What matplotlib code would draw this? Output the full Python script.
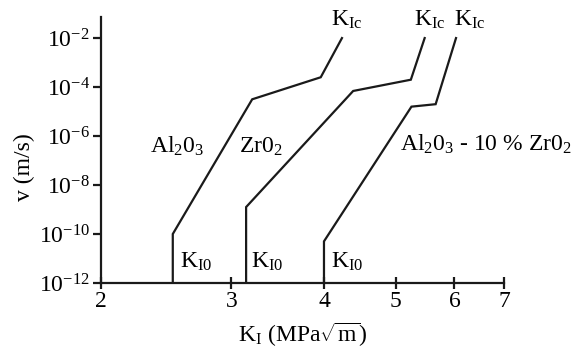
import numpy as np
import matplotlib
matplotlib.use("Agg")
import matplotlib.pyplot as plt

# crack velocity curves (K in MPa*sqrt(m), log10 of v in m/s)
k_al2o3 = [2.5, 2.5, 3.2, 3.96, 4.23]
logv_al2o3 = [-12, -10, -4.5, -3.6, -2.0]
k_zro2 = [3.14, 3.14, 4.38, 5.24, 5.47]
logv_zro2 = [-12, -8.9, -4.16, -3.7, -2.0]
k_mix = [4.0, 4.0, 5.25, 5.66, 6.03]
logv_mix = [-12, -10.3, -4.8, -4.7, -2.0]

x_ticks = [2, 3, 4, 5, 6, 7]
y_exponents = [-12, -10, -8, -6, -4, -2]

plt.rcParams['font.family'] = ['Liberation Serif', 'DejaVu Serif']
plt.rcParams['mathtext.fontset'] = 'custom'
plt.rcParams['mathtext.rm'] = 'Liberation Serif'
plt.rcParams['mathtext.it'] = 'Liberation Serif:italic'

fig = plt.figure(figsize=(5.73, 3.55), dpi=100)
ax = fig.add_axes([101 / 573, 72 / 355, 403 / 573, 266 / 355])

col = '#1a1a1a'
for k, lv in [(k_al2o3, logv_al2o3), (k_zro2, logv_zro2), (k_mix, logv_mix)]:
    ax.plot(k, 10.0 ** np.array(lv), color=col, lw=1.6, solid_joinstyle='miter')

ax.set_xscale('log')
ax.set_yscale('log')
ax.set_xlim(2, 7)
ax.set_ylim(1e-12, 10 ** -1.14)

ax.spines['top'].set_visible(False)
ax.spines['right'].set_visible(False)
for s in ['left', 'bottom']:
    ax.spines[s].set_linewidth(1.6)
    ax.spines[s].set_color(col)

fs = 17
ax.set_xticks(x_ticks)
ax.set_xticklabels([str(t) for t in x_ticks])
ax.xaxis.set_minor_locator(matplotlib.ticker.NullLocator())
ax.set_yticks([10.0 ** e for e in y_exponents])
ax.set_yticklabels([r'$10^{%d}$' % e for e in y_exponents])
ax.yaxis.set_minor_locator(matplotlib.ticker.NullLocator())
ax.tick_params(axis='x', direction='inout', length=8, width=1.6, color=col,
               labelsize=fs, pad=2)
ax.tick_params(axis='y', direction='out', length=6, width=1.6, color=col,
               labelsize=fs, pad=2)

# K_Ic labels at top
for kx in [4.09, 5.29, 5.99]:
    ax.text(kx, 10 ** -1.27, r'$\mathrm{K_{Ic}}$', fontsize=fs, va='center',
            ha='left', clip_on=False)
# K_I0 labels at bottom
for kx in [2.56, 3.19, 4.09]:
    ax.text(kx, 10 ** -11.14, r'$\mathrm{K_{I0}}$', fontsize=fs, va='center',
            ha='left')

ax.text(2.33, 10 ** -6.69, r'$\mathrm{Al_20_3}$', fontsize=fs, va='baseline')
ax.text(3.07, 10 ** -6.69, r'$\mathrm{Zr0_2}$', fontsize=fs, va='baseline')
ax.text(5.06, 10 ** -6.61, r'$\mathrm{Al_20_3}$ - 10 % $\mathrm{Zr0_2}$',
        fontsize=fs, va='baseline', clip_on=False)

ax.text(-0.191, (283 - 167) / 266, 'v (m/s)', transform=ax.transAxes,
        rotation=90, fontsize=fs, ha='center', va='center')
ax.text(0.5, -0.222, r'K$_\mathrm{I}$ (MPa$\sqrt{\mathrm{m}}$)',
        transform=ax.transAxes, fontsize=fs, ha='center', va='baseline')

fig.savefig('out.png', dpi=100)
